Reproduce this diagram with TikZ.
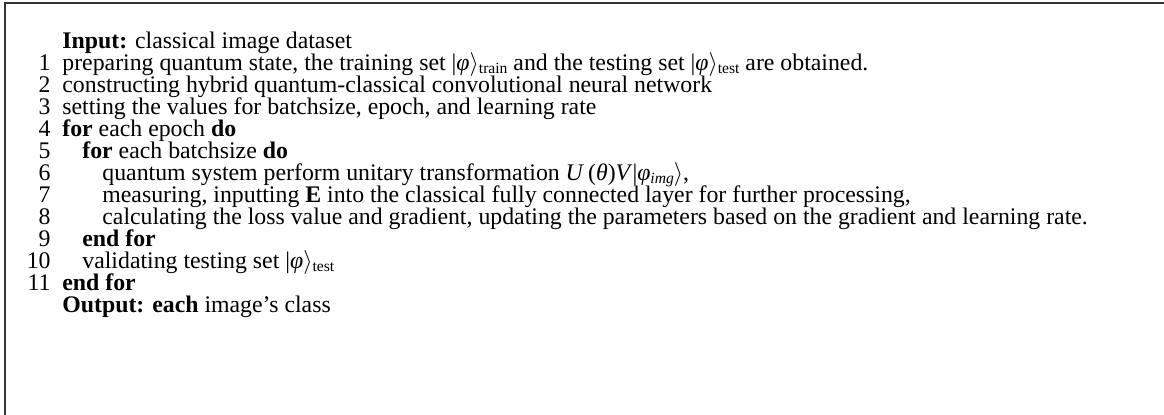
\documentclass[tikz,border=0pt]{standalone}
\usepackage{fontspec}
\setmainfont{Liberation Serif}
\newcommand{\mysub}[1]{\raisebox{-0.22ex}{\fontsize{7.8pt}{8pt}\selectfont #1}}
\newcommand{\ket}[2]{\textbar\textit{#1}$\rangle$\mysub{#2}}
\begin{document}
\begin{tikzpicture}[x=0.5pt,y=-0.5pt,
  txt/.style={anchor=base west,inner sep=0pt,font=\fontsize{11.9pt}{13pt}\selectfont},
  num/.style={anchor=base east,inner sep=0pt,font=\fontsize{11.9pt}{13pt}\selectfont},
  frame/.style={draw=black!80,line width=1pt}]
\useasboundingbox (0,0) rectangle (1164,415);
\coordinate (tl) at (5,3);
\coordinate (tr) at (1164,3);
\coordinate (bl) at (5,415);
\draw[frame] (bl) -- (tl) -- (tr);
\node[txt] (in) at (62,49) {\textbf{Input:} classical image dataset};
\node[num] (n1) at (51,71) {1};
\node[txt] (l1) at (62,71) {preparing quantum state, the training set \ket{φ}{train} and the testing set \ket{φ}{test} are obtained.};
\node[num] (n2) at (51,93) {2};
\node[txt] (l2) at (62,93) {constructing hybrid quantum-classical convolutional neural network};
\node[num] (n3) at (51,115) {3};
\node[txt] (l3) at (62,115) {setting the values for batchsize, epoch, and learning rate};
\node[num] (n4) at (51,137) {4};
\node[txt] (l4) at (62,137) {\textbf{for} each epoch \textbf{do}};
\node[num] (n5) at (51,159) {5};
\node[txt] (l5) at (82,159) {\textbf{for} each batchsize \textbf{do}};
\node[num] (n6) at (51,181) {6};
\node[txt] (l6) at (102,181) {quantum system perform unitary transformation \textit{U}\,(\textit{θ})\textit{V}\textbar\textit{φ}\mysub{\itshape img}$\rangle$,};
\node[num] (n7) at (51,203) {7};
\node[txt] (l7) at (102,203) {measuring, inputting \textbf{E} into the classical fully connected layer for further processing,};
\node[num] (n8) at (51,225) {8};
\node[txt] (l8) at (102,225) {calculating the loss value and gradient, updating the parameters based on the gradient and learning rate.};
\node[num] (n9) at (51,247) {9};
\node[txt] (l9) at (82,247) {\textbf{end for}};
\node[num] (n10) at (51,269) {10};
\node[txt] (l10) at (82,269) {validating testing set \ket{φ}{test}};
\node[num] (n11) at (51,291) {11};
\node[txt] (l11) at (62,291) {\textbf{end for}};
\node[txt] (out) at (62,313) {\textbf{Output: each} image's class};
\end{tikzpicture}
\end{document}
